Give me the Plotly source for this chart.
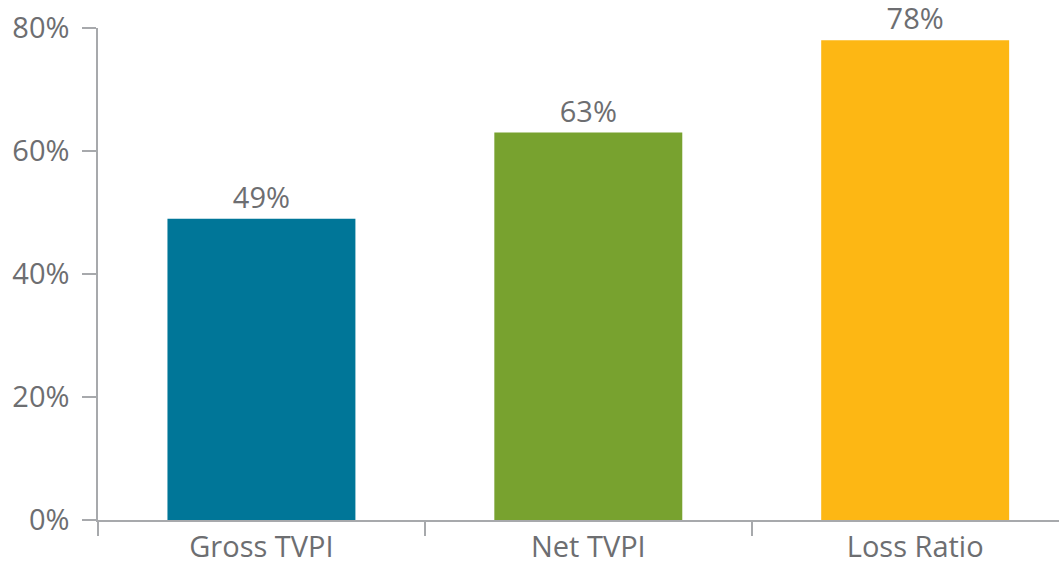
import plotly.graph_objects as go

categories = ["Gross TVPI", "Net TVPI", "Loss Ratio"]
values = [49, 63, 78]
colors = ["#007698", "#78a22f", "#fdb714"]
y_ticks = [0, 20, 40, 60, 80]
y_tick_labels = ["0%", "20%", "40%", "60%", "80%"]

font_family = "Open Sans, Lato, sans-serif"
gray = "#6d6e71"
axis_gray = "#a7a9ac"
fsize = 29

fig = go.Figure(
    go.Bar(
        x=categories,
        y=values,
        marker=dict(color=colors, line=dict(width=0)),
        width=0.575,
        text=[f"{v}%" for v in values],
        textposition="outside",
        textfont=dict(family=font_family, size=fsize, color=gray),
        cliponaxis=False,
    )
)

fig.update_layout(
    width=1059,
    height=567,
    margin=dict(l=98, r=0, t=28, b=47, autoexpand=False),
    paper_bgcolor="white",
    plot_bgcolor="white",
    showlegend=False,
    hovermode=False,
    font=dict(family=font_family, size=fsize, color=gray),
)

fig.update_xaxes(
    range=[-0.5, 2.44],
    automargin=False,
    showline=True,
    linecolor=axis_gray,
    linewidth=1.5,
    ticks="outside",
    tickson="boundaries",
    ticklen=14,
    tickcolor=axis_gray,
    tickwidth=1.5,
    showgrid=False,
    zeroline=False,
    ticklabelstandoff=0,
    ticklabeloverflow="allow",
    tickfont=dict(family=font_family, size=fsize, color=gray),
)

fig.update_yaxes(
    range=[0, 80],
    automargin=False,
    tickvals=y_ticks,
    ticktext=y_tick_labels,
    showline=True,
    linecolor=axis_gray,
    linewidth=1.5,
    ticks="outside",
    ticklen=14,
    tickcolor=axis_gray,
    tickwidth=1.5,
    showgrid=False,
    zeroline=False,
    ticklabelstandoff=7,
    ticklabeloverflow="allow",
    tickfont=dict(family=font_family, size=fsize, color=gray),
)

fig.write_html(
    "out.html",
    config={"displayModeBar": False},
    post_script="document.body.style.margin='0';document.body.style.overflow='hidden';",
)
